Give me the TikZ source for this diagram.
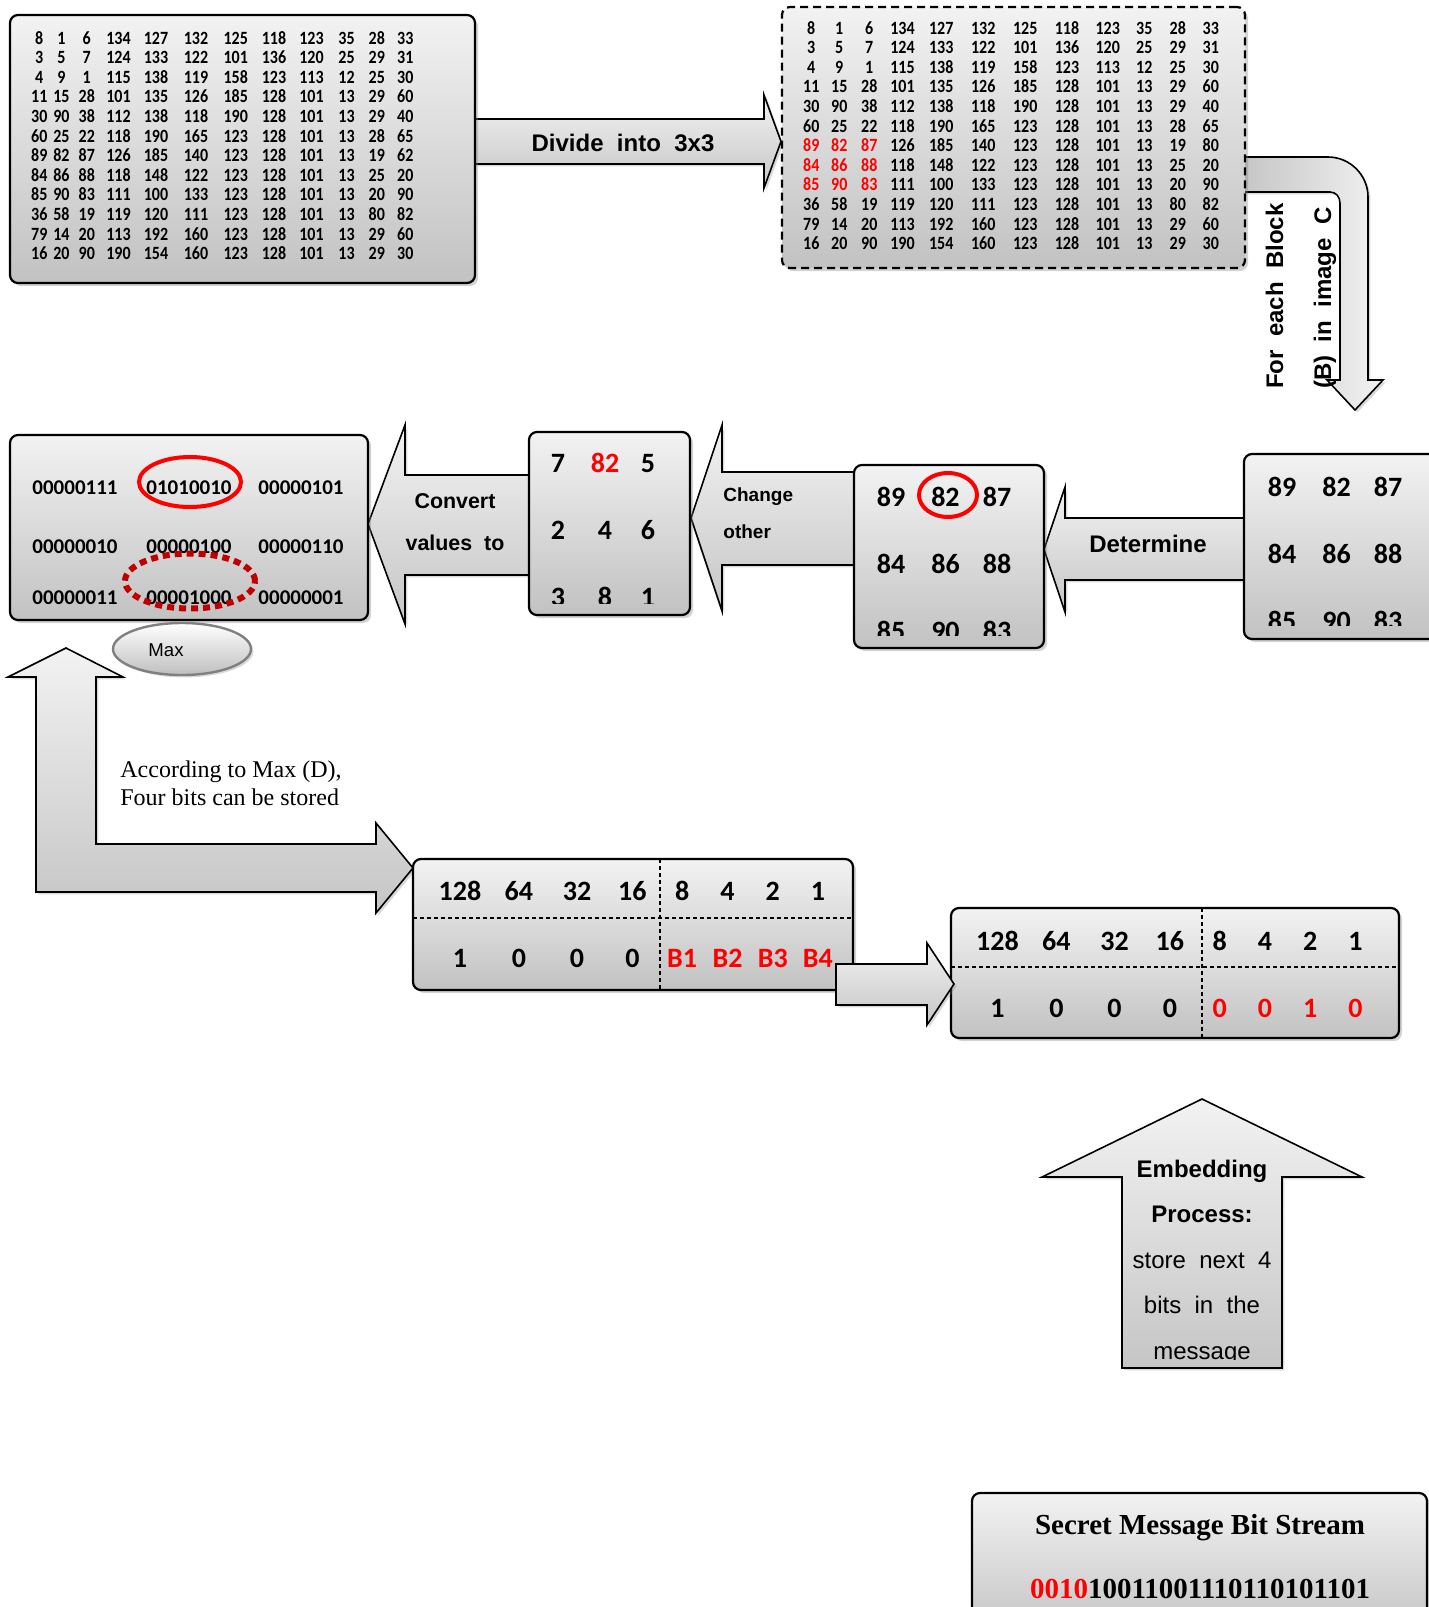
\documentclass[tikz,border=0pt]{standalone}
\usepackage{fontspec}
\usepackage{array}
\usetikzlibrary{shapes.geometric}
\usetikzlibrary{shadows}

\newfontfamily\calfont{Carlito}
\newfontfamily\arialfont{Liberation Sans}
\newfontfamily\timesfont{Liberation Serif}
\newcolumntype{C}[1]{>{\centering\arraybackslash}p{#1}}
\newcolumntype{G}{C{11pt}C{11.25pt}C{14pt}C{17.75pt}C{19.75pt}C{20.25pt}C{19.5pt}C{18.75pt}C{18.75pt}C{16.25pt}C{14pt}C{14.5pt}}
\newcolumntype{H}{C{13.25pt}C{14.75pt}C{15.25pt}C{18pt}C{20.75pt}C{21.25pt}C{20.75pt}C{21pt}C{19.75pt}C{16.75pt}C{16.75pt}C{16.25pt}}
\newcolumntype{K}{C{29.5pt}C{29.375pt}C{28.75pt}C{26.625pt}C{23.125pt}C{22.25pt}C{23pt}C{22.125pt}}
\setlength{\tabcolsep}{0pt}
\definecolor{maxred}{RGB}{192,0,0}

\tikzset{
  box/.style={draw, line width=1.1pt, rounded corners=4pt, top color=gray!10, bottom color=gray!48,
    drop shadow={opacity=0.35, shadow xshift=1.5pt, shadow yshift=-1.5pt}},
  dashbox/.style={box, dash pattern=on 4pt off 2.5pt},
  bigarrow/.style={draw, line width=0.8pt, top color=gray!10, bottom color=gray!45,
    drop shadow={opacity=0.3, shadow xshift=1.2pt, shadow yshift=-1.2pt}},
  bentarrow/.style={bigarrow, left color=gray!45, right color=gray!10},
  arrowtext/.style={inner sep=0pt, font=\arialfont\bfseries\fontsize{12}{14}\selectfont},
  nums/.style={inner sep=0pt, font=\calfont\bfseries},
  ring/.style={ellipse, draw=red, line width=2pt, inner sep=0pt},
  divider/.style={line width=0.6pt, dash pattern=on 2pt off 1.5pt},
}

\begin{document}
\begin{tikzpicture}[x=0.5pt,y=-0.5pt]
\clip (0,0) rectangle (1429,1607);

% arrows of the first row
\draw[bigarrow] (475,119) -- (764,119) -- (764,95) -- (781,141.5) -- (764,188) -- (764,164) -- (475,164) -- cycle;
\node (divide) at (623,143) [arrowtext] {Divide~~into~~3x3};
\draw[bentarrow] (1243,157) -- (1328,157) .. controls (1350,157) and (1368,175) .. (1368,197) -- (1368,380) -- (1383,380) -- (1355,410) -- (1327,380) -- (1340,380) -- (1340,203) .. controls (1340,197) and (1336,192) .. (1330,192) -- (1243,192) -- cycle;
\node (forEach) at (1301,296) [arrowtext, rotate=90, align=left, font=\arialfont\bfseries\fontsize{12}{24}\selectfont] {For~~each~~Block\\(B)~~in~~image~~C};

% cover image C
\node (cover) at (242.5,149) [box, minimum width=232.5pt, minimum height=134pt] {};
\node (coverNums) at (224,148) [nums] {\scalebox{1}[1.17]{\fontsize{8}{8.38}\selectfont
\begin{tabular}{G}
8&1&6&134&127&132&125&118&123&35&28&33\\
3&5&7&124&133&122&101&136&120&25&29&31\\
4&9&1&115&138&119&158&123&113&12&25&30\\
11&15&28&101&135&126&185&128&101&13&29&60\\
30&90&38&112&138&118&190&128&101&13&29&40\\
60&25&22&118&190&165&123&128&101&13&28&65\\
89&82&87&126&185&140&123&128&101&13&19&62\\
84&86&88&118&148&122&123&128&101&13&25&20\\
85&90&83&111&100&133&123&128&101&13&20&90\\
36&58&19&119&120&111&123&128&101&13&80&82\\
79&14&20&113&192&160&123&128&101&13&29&60\\
16&20&90&190&154&160&123&128&101&13&29&30
\end{tabular}}};

% image divided into 3x3 blocks
\node (blocks) at (1013.5,137.5) [dashbox, minimum width=231.5pt, minimum height=130.5pt] {};
\node (blockNums) at (1012.5,138) [nums] {\scalebox{1}[1.17]{\fontsize{8}{8.38}\selectfont
\begin{tabular}{H}
8&1&6&134&127&132&125&118&123&35&28&33\\
3&5&7&124&133&122&101&136&120&25&29&31\\
4&9&1&115&138&119&158&123&113&12&25&30\\
11&15&28&101&135&126&185&128&101&13&29&60\\
30&90&38&112&138&118&190&128&101&13&29&40\\
60&25&22&118&190&165&123&128&101&13&28&65\\
\textcolor{red}{89}&\textcolor{red}{82}&\textcolor{red}{87}&126&185&140&123&128&101&13&19&80\\
\textcolor{red}{84}&\textcolor{red}{86}&\textcolor{red}{88}&118&148&122&123&128&101&13&25&20\\
\textcolor{red}{85}&\textcolor{red}{90}&\textcolor{red}{83}&111&100&133&123&128&101&13&20&90\\
36&58&19&119&120&111&123&128&101&13&80&82\\
79&14&20&113&192&160&123&128&101&13&29&60\\
16&20&90&190&154&160&123&128&101&13&29&30
\end{tabular}}};

% arrows of the second row
\draw[bigarrow] (1244,518) -- (1065,518) -- (1065,487) -- (1044,549.5) -- (1065,612) -- (1065,580) -- (1244,580) -- cycle;
\node (determine) at (1148,544) [arrowtext] {Determine};
\draw[bigarrow] (854,472) -- (722,472) -- (722,425) -- (691,518) -- (722,611) -- (722,565) -- (854,565) -- cycle;
\node (change) at (723,513) [arrowtext, anchor=west, align=left, font=\arialfont\bfseries\fontsize{9.5}{18.5}\selectfont] {Change\\other};
\draw[bigarrow] (529,475) -- (405,475) -- (405,425) -- (368,524) -- (405,624) -- (405,575) -- (529,575) -- cycle;
\node (convert) at (455,522) [arrowtext, align=center, font=\arialfont\bfseries\fontsize{10.7}{21}\selectfont] {Convert\\values~~to};

% one block B and its differences
\node (block) at (1344.5,546.5) [box, minimum width=100.5pt, minimum height=92.5pt] {};
\node (maxBlock) at (949,556.5) [box, minimum width=95pt, minimum height=91.5pt] {};
\node (diffBlock) at (609.5,523.5) [box, minimum width=80.5pt, minimum height=91.5pt] {};
\node (binBlock) at (189,527.5) [box, minimum width=179pt, minimum height=92.5pt] {};

\begin{scope}
\clip (1246,456) rectangle (1429,625);
\node (blockVals) at (1333.5,550.5) [nums] {\fontsize{14}{33.5}\selectfont
\begin{tabular}{C{28pt}C{26.5pt}C{25pt}}
89&82&87\\ 84&86&88\\ 85&90&83
\end{tabular}};
\end{scope}
\begin{scope}
\clip (856,467) rectangle (1042,635);
\node (maxVals) at (942.5,560.5) [nums] {\fontsize{14}{33.5}\selectfont
\begin{tabular}{C{28pt}C{26.5pt}C{25pt}}
89&82&87\\ 84&86&88\\ 85&90&83
\end{tabular}};
\end{scope}
\begin{scope}
\clip (531,434) rectangle (688,603);
\node (diffVals) at (601,526) [nums] {\fontsize{14}{33.5}\selectfont
\begin{tabular}{C{24.5pt}C{22.5pt}C{20.5pt}}
7&\textcolor{red}{82}&5\\ 2&4&6\\ 3&8&1
\end{tabular}};
\end{scope}
\node (binVals) at (187,538) [nums] {\fontsize{10.5}{29.5}\selectfont
\begin{tabular}{C{57.5pt}C{56.5pt}C{55.5pt}}
00000111&01010010&00000101\\
00000010&00000100&00000110\\[-4pt]
00000011&00001000&00000001
\end{tabular}};

% marks on the maximum
\node (peak) at (948,495) [ring, minimum width=29pt, minimum height=22pt] {};
\node (peakBin) at (190,482) [ring, minimum width=51pt, minimum height=25pt] {};
\node (maxBin) at (190,581) [ring, draw=maxred, line width=3pt, dash pattern=on 3.5pt off 2.5pt, minimum width=65pt, minimum height=27.5pt] {};

% capacity from Max (D)
\draw[bigarrow] (66,648) -- (123,677) -- (96,677) -- (96,844) -- (376,844) -- (376,823) -- (413,868) -- (376,913) -- (376,892) -- (36,892) -- (36,677) -- (8,677) -- cycle;
\node (maxTag) at (182,649) [ellipse, draw=gray, line width=1.2pt, top color=white, bottom color=gray!50, minimum width=69pt, minimum height=26pt, inner sep=0pt, drop shadow={opacity=0.3, shadow xshift=1.2pt, shadow yshift=-1.2pt}] {};
\node (maxText) at (166,650) [inner sep=0pt, font=\arialfont\fontsize{9.3}{11}\selectfont] {Max};
\node (rule) at (120,783) [anchor=west, align=left, inner sep=0pt, font=\timesfont\fontsize{12}{14}\selectfont] {According to Max (D),\\Four bits can be stored};

% bit positions before and after embedding
\node (bitsA) at (633,924.5) [box, minimum width=220pt, minimum height=65.5pt] {};
\draw[divider] (660,859) -- (660,990);
\draw[divider] (413,918) -- (853,918);
\node (bitsAVals) at (635.25,921) [nums] {\fontsize{14}{33.5}\selectfont
\begin{tabular}{K}
128&64&32&16&8&4&2&1\\
1&0&0&0&\textcolor{red}{B1}&\textcolor{red}{B2}&\textcolor{red}{B3}&\textcolor{red}{B4}
\end{tabular}};

\node (bitsB) at (1175,973) [box, minimum width=224pt, minimum height=65pt] {};
\draw[divider] (1202,908) -- (1202,1038);
\draw[divider] (951,967) -- (1399,967);
\node (bitsBVals) at (1172.75,970.5) [nums] {\fontsize{14}{33.5}\selectfont
\begin{tabular}{K}
128&64&32&16&8&4&2&1\\
1&0&0&0&\textcolor{red}{0}&\textcolor{red}{0}&\textcolor{red}{1}&\textcolor{red}{0}
\end{tabular}};
\draw[bigarrow] (836,964) -- (927,964) -- (927,943) -- (954,984) -- (927,1025) -- (927,1005) -- (836,1005) -- cycle;

% embedding step
\draw[bigarrow] (1202,1099) -- (1362,1177) -- (1282,1177) -- (1282,1368) -- (1122,1368) -- (1122,1177) -- (1042,1177) -- cycle;
\begin{scope}
\clip (1042,1099) rectangle (1362,1359);
\node (embed) at (1202,1262) [align=center, inner sep=0pt, font=\arialfont\fontsize{12}{22.75}\selectfont] {\textbf{Embedding}\\\textbf{Process:}\\store~~next~~4\\bits~~in~~the\\message};
\end{scope}

% secret message
\node (secret) at (1199.5,1566.5) [box, minimum width=227.5pt, minimum height=73.5pt] {};
\node (stream) at (1200,1557) [align=center, inner sep=0pt, font=\timesfont\bfseries\fontsize{14.5}{32}\selectfont] {Secret Message Bit Stream\\\textcolor{red}{0010}10011001110110101101};

\end{tikzpicture}
\end{document}
